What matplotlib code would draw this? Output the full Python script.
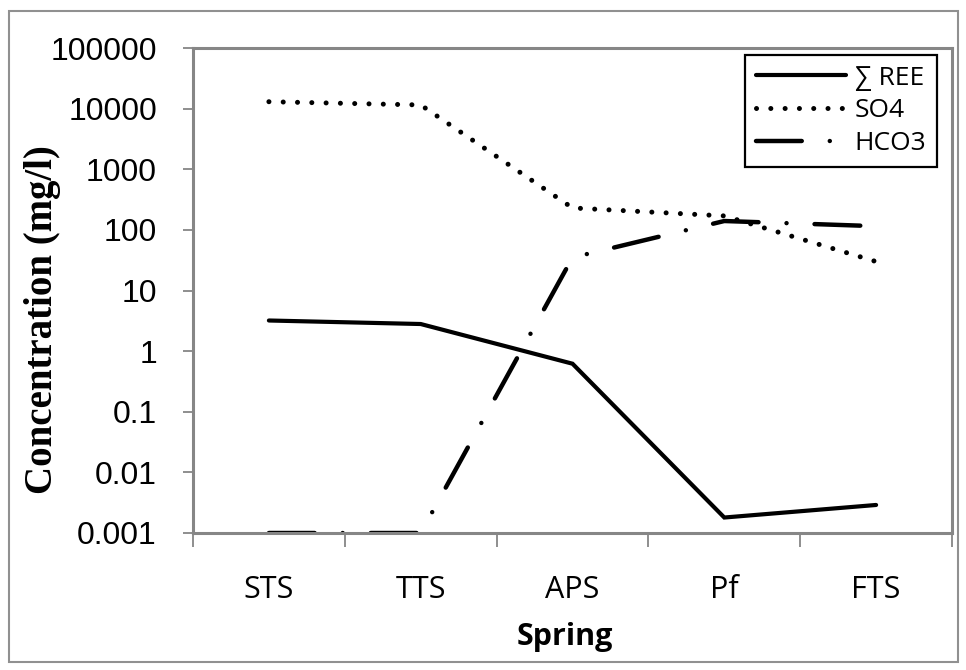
import matplotlib
matplotlib.use("Agg")
import matplotlib.pyplot as plt
from matplotlib.patches import Rectangle

# Datos
springs = ["STS", "TTS", "APS", "Pf", "FTS"]
ree = [3.2, 2.8, 0.62, 0.0018, 0.0029]
so4 = [13000, 11500, 230, 170, 30]
hco3 = [0.001, 0.001, 35, 140, 115]
ytick_vals = [0.001, 0.01, 0.1, 1, 10, 100, 1000, 10000, 100000]
ytick_labels = ["0.001", "0.01", "0.1", "1", "10", "100", "1000", "10000", "100000"]

W, H = 966, 670
L, R, T, B = 193, 952, 48, 533

fig = plt.figure(figsize=(W / 100, H / 100), dpi=100)
ax = fig.add_axes([L / W, 1 - B / H, (R - L) / W, (B - T) / H])

x = list(range(len(springs)))
ax.plot(x, ree, color="black", lw=3, solid_capstyle="round", solid_joinstyle="miter", label="∑ REE")
ax.plot(x, so4, color="black", lw=3.6, dashes=(0.01, 2.85), dash_capstyle="round", label="SO4")
ax.plot(x, hco3, color="black", lw=3.2, dashes=(10.3, 6.3, 0.01, 6.3), dash_capstyle="round", label="HCO3")

ax.set_yscale("log")
ax.set_ylim(0.001, 100000)
ax.set_xlim(-0.5, len(springs) - 0.5)
ax.set_yticks(ytick_vals)
ax.set_yticklabels(ytick_labels, fontfamily="Liberation Sans", fontsize=23)
ax.yaxis.set_minor_locator(matplotlib.ticker.NullLocator())
ax.set_xticks(x)
ax.set_xticklabels(springs, fontfamily="Open Sans", fontsize=22)
# ticks del eje x entre categorias
ax.set_xticks([i - 0.5 for i in range(len(springs) + 1)], minor=True)
ax.tick_params(axis="x", which="major", length=0, pad=30)
ax.tick_params(axis="x", which="minor", direction="out", length=10, width=1.3, color="#868686")
ax.tick_params(axis="y", which="major", direction="out", length=7, width=1.3, color="#868686", pad=19)

for s in ax.spines.values():
    s.set_color("#868686")
    s.set_linewidth(2.2)

ax.set_xlabel("Spring", fontfamily="Open Sans", fontweight="bold", fontsize=22, va="center")
ax.xaxis.set_label_coords(0.49, (B - 637) / (B - T))
ax.set_ylabel("Concentration (mg/l)", fontfamily="Liberation Serif", fontweight="bold", fontsize=28, va="center")
ax.yaxis.set_label_coords((42 - L) / (R - L), (B - 320) / (B - T))

leg = ax.legend(loc="upper right", bbox_to_anchor=(937 / W, 1 - 55 / H), bbox_transform=fig.transFigure,
                fancybox=False, framealpha=1, edgecolor="black", handlelength=3.4,
                prop={"family": "Open Sans", "size": 19}, borderpad=0.4, labelspacing=0.3,
                handletextpad=0.35, borderaxespad=0)
leg.get_frame().set_linewidth(1.6)

fig.patches.append(Rectangle((9 / W, 1 - 662 / H), (958 - 9) / W, (662 - 11) / H,
                             transform=fig.transFigure, fill=False, edgecolor="#909090", lw=1.5))

fig.savefig("out.png", dpi=100)
